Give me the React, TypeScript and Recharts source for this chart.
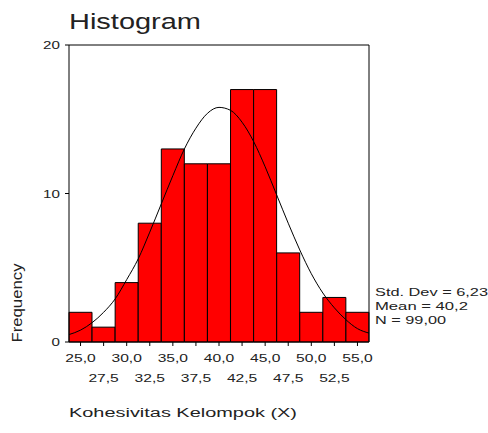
import { Bar, ComposedChart, Line, ReferenceLine, XAxis, YAxis } from 'recharts';

const FONT = '"Liberation Sans", Arial, Helvetica, sans-serif';

// histogram bins (midpoints) and counts
const BIN_LABELS = ['25,0', '27,5', '30,0', '32,5', '35,0', '37,5', '40,0', '42,5', '45,0', '47,5', '50,0', '52,5', '55,0'];
const FREQUENCY = [2, 1, 4, 8, 13, 12, 12, 17, 17, 6, 2, 3, 2];
const Y_TICKS = [0, 10, 20];

// normal curve
const CURVE_X = [23.75, 25, 26.25, 27.5, 28.75, 30, 31.25, 32.5, 33.75, 35, 36.25, 37.5, 38.75, 40, 41.25, 42.5, 43.75, 45, 46.25, 47.5, 48.75, 50, 51.25, 52.5, 53.75, 55, 56.25];
const CURVE_Y = [0.5, 0.8, 1.3, 2.0, 2.9, 4.2, 5.6, 7.4, 9.3, 11.2, 13.0, 14.4, 15.4, 15.8, 15.6, 14.8, 13.5, 11.8, 9.9, 8.0, 6.2, 4.6, 3.3, 2.3, 1.5, 0.9, 0.6];

const STATS = ['Std. Dev = 6,23', 'Mean = 40,2', 'N = 99,00'];
const STAT_WIDTHS = [113, 93, 71];

const bars = BIN_LABELS.map((label, i) => ({ label, freq: FREQUENCY[i] }));
const curve = CURVE_X.map((x, i) => ({ x, y: CURVE_Y[i] }));

function XTick(props: any) {
  const { x, y, payload, index } = props;
  const row = index % 2;
  return (
    <text
      transform={`translate(${x},${y + 14 + row * 20}) scale(1.42,1)`}
      textAnchor="middle"
      fontSize={11}
      fontFamily={FONT}
      fill="#222"
    >
      {payload.value}
    </text>
  );
}

function YTick(props: any) {
  const { x, y, payload } = props;
  return (
    <text
      transform={`translate(${x - 3},${y + 4}) scale(1.38,1)`}
      textAnchor="end"
      fontSize={11}
      fontFamily={FONT}
      fill="#222"
    >
      {payload.value}
    </text>
  );
}

export default function App() {
  return (
    <div style={{ position: 'absolute', left: 0, top: 0, width: 488, height: 433, background: '#fff' }}>
      <ComposedChart
        width={488}
        height={433}
        data={bars}
        margin={{ top: 45, right: 119, bottom: 0, left: 0 }}
        barCategoryGap={0}
        barGap={0}
      >
        <XAxis
          dataKey="label"
          interval={0}
          height={91}
          tickSize={4}
          tick={<XTick />}
          stroke="#000"
        />
        <XAxis xAxisId="num" type="number" dataKey="x" domain={[23.75, 56.25]} allowDataOverflow hide />
        <YAxis
          domain={[0, 20]}
          ticks={Y_TICKS}
          width={69}
          tickSize={4}
          tick={<YTick />}
          stroke="#000"
        />
        <ReferenceLine y={20} stroke="#000" strokeWidth={1} />
        <ReferenceLine xAxisId="num" x={56.25} stroke="#000" strokeWidth={1} />
        <Bar dataKey="freq" fill="#ff0000" stroke="#000" strokeWidth={1} isAnimationActive={false} />
        <Line
          xAxisId="num"
          data={curve}
          dataKey="y"
          type="monotone"
          dot={false}
          stroke="#000"
          strokeWidth={1}
          isAnimationActive={false}
        />
      </ComposedChart>
      <svg
        width={488}
        height={433}
        style={{ position: 'absolute', left: 0, top: 0, pointerEvents: 'none' }}
        fontFamily={FONT}
      >
        <text x={69} y={28.5} fontSize={22} fill="#222" textLength={132} lengthAdjust="spacingAndGlyphs">
          Histogram
        </text>
        <text
          transform="translate(22,303) rotate(-90)"
          textAnchor="middle"
          fontSize={14}
          fill="#222"
          textLength={79}
          lengthAdjust="spacingAndGlyphs"
        >
          Frequency
        </text>
        {STATS.map((s, i) => (
          <text
            key={s}
            x={375}
            y={296 + i * 14.2}
            fontSize={11}
            fill="#222"
            textLength={STAT_WIDTHS[i]}
            lengthAdjust="spacingAndGlyphs"
          >
            {s}
          </text>
        ))}
        <text x={69} y={417} fontSize={12} fill="#222" textLength={228} lengthAdjust="spacingAndGlyphs">
          Kohesivitas Kelompok (X)
        </text>
      </svg>
    </div>
  );
}
